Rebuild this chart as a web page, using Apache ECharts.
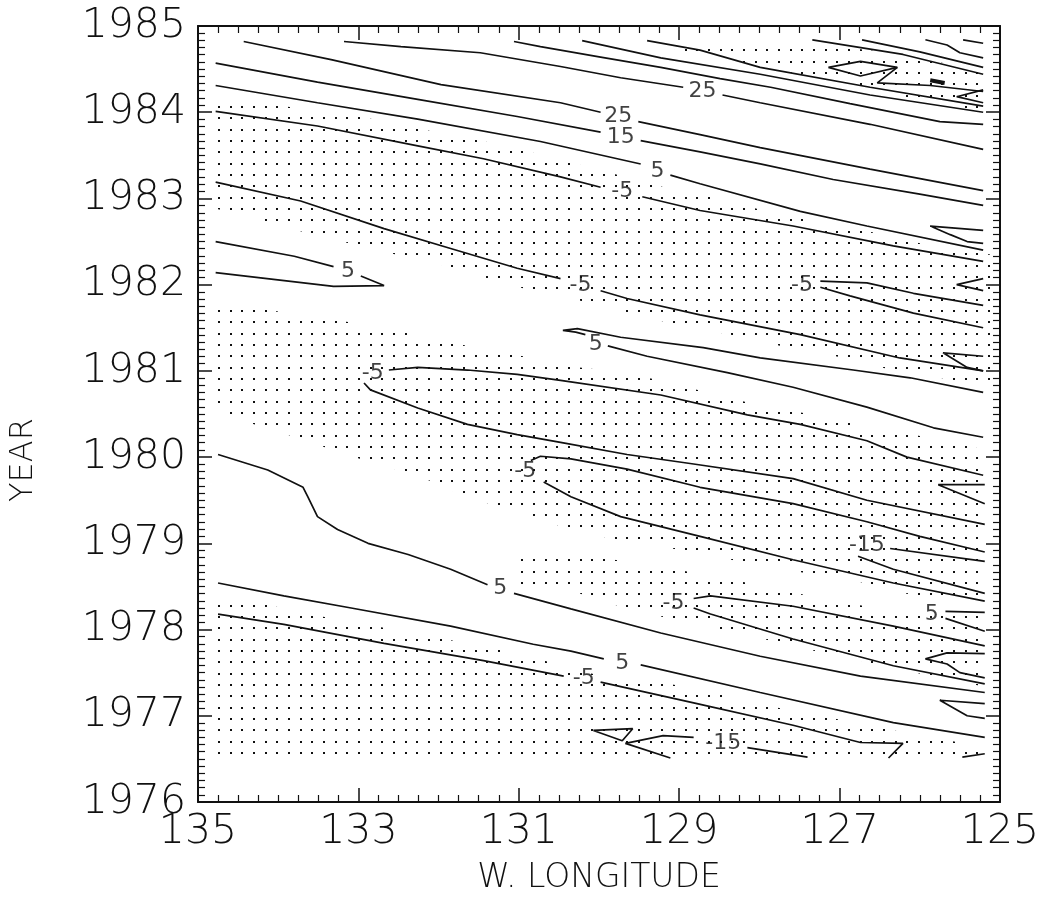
<!DOCTYPE html>
<html><head><meta charset="utf-8">
<script src="https://cdn.jsdelivr.net/npm/echarts@6/dist/echarts.min.js"></script>
<style>html,body{margin:0;padding:0;background:#fff}#c{width:1053px;height:900px}</style>
</head><body><div id="c"></div>
<script>
// ---- axis tick labels ----
const lonTicks = [125, 127, 129, 131, 133, 135];
const lonLabels = ['125', '127', '129', '131', '133', '135'];
const yearTicks = [1976, 1977, 1978, 1979, 1980, 1981, 1982, 1983, 1984, 1985];
const yearLabels = ['1976', '1977', '1978', '1979', '1980', '1981', '1982', '1983', '1984', '1985'];

// ---- contour line segments [W. longitude, year] ----
const t1a = [[134.43,1984.82],[133.34,1984.61],[131.97,1984.32],[130.48,1984.11],[129.98,1984.00]];
const t1b = [[129.51,1983.89],[128.74,1983.74],[127.99,1983.59],[126.62,1983.34],[125.21,1983.09]];
const l4a = [[134.78,1984.57],[133.51,1984.35],[132.26,1984.15],[131.02,1983.95],[129.98,1983.77]];
const l4b = [[129.48,1983.67],[128.74,1983.54],[127.99,1983.40],[127.08,1983.22],[126.00,1983.05],[125.21,1982.92]];
const l5a = [[134.78,1984.31],[133.51,1984.11],[132.26,1983.92],[130.73,1983.66],[129.48,1983.40]];
const l5b = [[129.11,1983.27],[128.74,1983.17],[127.49,1982.85],[126.66,1982.68],[125.21,1982.40]];
const l6a = [[134.78,1984.01],[133.51,1983.84],[132.26,1983.61],[131.44,1983.46],[130.48,1983.25],[129.98,1983.13]];
const l6b = [[129.46,1983.02],[128.74,1982.86],[127.58,1982.68],[126.33,1982.45],[125.21,1982.27]];
const t2a = [[133.18,1984.82],[132.47,1984.76],[131.48,1984.69],[130.48,1984.53],[129.73,1984.40],[128.95,1984.29]];
const t2b = [[128.46,1984.20],[127.99,1984.11],[126.62,1983.86],[125.21,1983.57]];
const t3 = [[131.06,1984.82],[130.73,1984.76],[129.98,1984.64],[129.23,1984.52],[128.49,1984.39],[127.86,1984.29],[126.87,1984.10],[125.75,1983.89],[125.21,1983.86]];
const u582 = [[130.21,1984.83],[129.23,1984.63],[127.99,1984.44],[126.62,1984.20],[125.21,1984.00]];
const u647 = [[129.40,1984.83],[128.74,1984.72],[127.99,1984.52],[126.62,1984.29],[125.21,1984.07]];
const u1 = [[127.34,1984.84],[126.21,1984.67],[125.21,1984.44]];
const u2 = [[126.72,1984.84],[126.00,1984.70],[125.21,1984.52]];
const u3 = [[125.93,1984.84],[125.66,1984.78],[125.50,1984.69],[125.21,1984.63]];
const u4 = [[125.46,1984.84],[125.21,1984.80]];
const diamond = [[127.14,1984.52],[126.74,1984.59],[126.28,1984.52],[126.74,1984.42],[127.14,1984.52]];
const zline = [[126.28,1984.52],[126.53,1984.34],[125.87,1984.31],[125.21,1984.24]];
const blob = [[125.87,1984.37],[125.69,1984.34]];
const vTop = [[125.21,1984.26],[125.54,1984.18],[125.21,1984.11]];
const v1 = [[125.21,1982.63],[125.87,1982.68],[125.62,1982.58],[125.41,1982.50],[125.21,1982.48]];
const l7a = [[134.78,1983.19],[133.72,1982.97],[132.68,1982.65],[131.85,1982.42],[131.02,1982.19],[130.48,1982.07]];
const l7b = [[129.98,1981.93],[129.65,1981.84],[128.74,1981.65],[127.49,1981.42],[126.25,1981.15],[125.21,1981.00]];
const loopUp = [[134.78,1982.50],[133.80,1982.33],[133.31,1982.21]];
const loopLow = [[132.97,1982.10],[132.68,1981.99],[133.31,1981.98],[134.78,1982.14]];
const m5up = [[127.24,1982.04],[126.66,1982.02],[126.08,1981.90],[125.21,1981.76]];
const m5low = [[127.24,1981.97],[126.87,1981.87],[126.08,1981.67],[125.21,1981.50]];
const v2 = [[125.21,1982.07],[125.54,1982.00],[125.21,1981.93]];
const v3 = [[125.21,1981.17],[125.71,1981.21],[125.41,1981.04],[125.21,1981.00]];
const p5up = [[125.21,1980.75],[126.12,1980.92],[126.83,1981.01],[127.99,1981.15],[128.70,1981.27],[129.73,1981.39],[130.27,1981.49],[130.45,1981.47],[130.29,1981.45],[130.17,1981.42]];
const p5low = [[129.89,1981.29],[129.40,1981.17],[128.40,1980.98],[127.58,1980.81],[126.66,1980.58],[125.83,1980.34],[125.21,1980.23]];
const n5aUp = [[132.62,1981.01],[132.26,1981.04],[131.64,1981.01],[131.02,1980.96],[130.48,1980.89],[129.23,1980.72],[128.15,1980.49],[127.49,1980.38],[126.66,1980.19],[126.16,1980.00],[125.21,1979.79]];
const n5aLow = [[132.93,1980.86],[132.85,1980.78],[132.26,1980.57],[131.64,1980.38],[131.02,1980.26],[130.48,1980.17],[129.65,1980.03],[128.82,1979.92],[127.58,1979.75],[126.66,1979.50],[125.19,1979.22]];
const n5bUp = [[130.85,1979.96],[130.73,1980.01],[130.35,1979.98],[129.65,1979.86],[128.74,1979.65],[127.58,1979.46],[126.66,1979.25],[126.00,1979.08],[125.19,1978.90]];
const n5bLow = [[130.69,1979.71],[130.35,1979.54],[129.73,1979.31],[128.74,1979.08],[127.58,1978.81],[126.33,1978.54],[125.19,1978.33]];
const v4 = [[125.19,1979.68],[125.77,1979.68],[125.19,1979.46]];
const n15Up = [[126.37,1978.94],[125.19,1978.79]];
const n15Low = [[126.77,1978.85],[126.33,1978.70],[125.19,1978.42]];
const n5cUp = [[128.82,1978.36],[128.61,1978.39],[127.58,1978.27],[126.33,1978.04],[125.19,1977.81]];
const n5cLow = [[128.82,1978.25],[128.61,1978.18],[127.58,1977.89],[126.33,1977.58],[125.19,1977.37]];
const p5r1 = [[125.68,1978.21],[125.19,1978.20]];
const p5r2 = [[125.68,1978.13],[125.19,1977.98]];
const v5 = [[125.19,1977.72],[125.66,1977.73],[125.93,1977.66],[125.66,1977.60],[125.50,1977.50],[125.19,1977.44]];
const v6 = [[125.19,1977.14],[125.75,1977.18],[125.41,1977.00],[125.19,1976.97]];
const m1a = [[134.75,1980.03],[134.13,1979.85],[133.69,1979.65],[133.63,1979.54],[133.51,1979.31],[133.26,1979.16],[132.88,1979.00],[132.38,1978.87],[131.85,1978.70],[131.39,1978.52]];
const m1b = [[131.06,1978.42],[130.35,1978.24],[129.23,1977.96],[127.99,1977.69],[126.74,1977.46],[125.19,1977.27]];
const m2a = [[134.75,1978.54],[133.93,1978.39],[133.09,1978.25],[131.85,1978.04],[130.82,1977.83],[130.35,1977.75],[129.94,1977.66]];
const m2b = [[129.48,1977.59],[127.99,1977.27],[126.33,1976.92],[125.19,1976.75]];
const m3a = [[134.75,1978.18],[133.93,1978.06],[132.68,1977.84],[131.44,1977.64],[130.44,1977.46]];
const m3b = [[129.98,1977.39],[128.82,1977.15],[127.58,1976.89],[126.74,1976.69],[126.21,1976.68],[126.39,1976.51]];
const tri = [[130.07,1976.83],[129.58,1976.85],[129.71,1976.71],[130.07,1976.83]];
const b15a = [[129.67,1976.68],[129.20,1976.77],[128.82,1976.75]];
const b15b = [[128.15,1976.63],[127.40,1976.52]];
const b15c = [[129.67,1976.68],[129.11,1976.51]];
const stub = [[125.47,1976.52],[125.19,1976.56]];

const contourSegments = [t1a,t1b,l4a,l4b,l5a,l5b,l6a,l6b,t2a,t2b,t3,u582,u647,u1,u2,u3,u4,diamond,zline,vTop,v1,
  l7a,l7b,loopUp,loopLow,m5up,m5low,v2,v3,p5up,p5low,n5aUp,n5aLow,n5bUp,n5bLow,v4,n15Up,n15Low,n5cUp,n5cLow,
  p5r1,p5r2,v5,v6,m1a,m1b,m2a,m2b,m3a,m3b,tri,b15a,b15b,b15c,stub];

// ---- contour labels [lon, year, text] ----
const contourLabels = [
  [129.76,1983.95,'25'],[128.71,1984.24,'25'],[129.73,1983.71,'15'],[129.27,1983.32,'5'],[129.71,1983.08,'-5'],
  [133.13,1982.15,'5'],[130.23,1981.99,'-5'],[127.47,1981.99,'-5'],[130.04,1981.31,'5'],[132.82,1980.97,'-5'],
  [130.92,1979.83,'-5'],[126.66,1978.98,'-15'],[131.23,1978.48,'5'],[129.07,1978.31,'-5'],[125.85,1978.18,'5'],
  [129.71,1977.61,'5'],[130.19,1977.43,'-5'],[128.45,1976.68,'-15']
];

// ---- stippled (negative) regions ----
const stip1 = [[134.78,1984.15],[134.28,1984.11],[133.43,1984.01],[132.56,1983.88],[132.00,1983.76],[131.26,1983.63],[130.70,1983.50],[130.11,1983.36],[129.11,1983.11],[128.52,1983.00],[127.95,1982.86],[127.20,1982.71],[126.49,1982.59],[125.91,1982.46],[125.12,1982.35],
  [125.12,1980.83],[125.62,1980.90],[126.35,1981.01],[126.93,1981.15],[127.65,1981.27],[128.24,1981.40],[128.96,1981.52],[129.55,1981.65],[130.11,1981.79],[130.70,1981.90],[131.29,1982.04],[131.70,1982.17],[132.29,1982.30],[132.87,1982.42],[133.44,1982.56],[134.00,1982.68],[134.46,1982.82],[134.78,1982.88]];
const stip2 = [[134.78,1981.78],[134.59,1981.76],[133.69,1981.65],[132.82,1981.52],[132.10,1981.38],[131.39,1981.24],[130.69,1981.13],[130.44,1981.06],[129.96,1981.01],[129.23,1980.89],[128.65,1980.75],[128.08,1980.62],[127.33,1980.49],[126.74,1980.37],[126.03,1980.25],[125.31,1980.11],[125.15,1980.09],
  [125.15,1978.33],[125.62,1978.35],[126.21,1978.42],[126.78,1978.56],[127.52,1978.67],[128.24,1978.79],[128.96,1978.92],[129.83,1979.05],[130.39,1979.17],[130.83,1979.31],[131.26,1979.43],[131.70,1979.55],[132.00,1979.69],[132.43,1979.83],[132.85,1979.94],[133.28,1980.07],[133.72,1980.21],[134.15,1980.34],[134.59,1980.46],[134.78,1980.60]];
const stip3 = [[130.98,1978.87],[130.11,1978.85],[129.23,1978.73],[128.49,1978.60],[127.78,1978.48],[127.20,1978.35],[126.47,1978.24],[125.15,1978.15],
  [125.15,1977.33],[125.87,1977.46],[126.33,1977.56],[126.91,1977.67],[127.49,1977.79],[128.08,1977.92],[128.65,1978.04],[129.23,1978.15],[129.82,1978.29],[130.25,1978.42],[130.39,1978.52],[130.98,1978.52]];
const stip4 = [[134.78,1978.33],[134.25,1978.31],[133.56,1978.17],[132.85,1978.05],[132.10,1977.92],[131.35,1977.79],[130.77,1977.66],[129.98,1977.46],[129.36,1977.41],[128.65,1977.29],[128.08,1977.15],[127.49,1977.04],[126.74,1976.91],[126.02,1976.77],[125.31,1976.66],[125.15,1976.63],
  [125.15,1976.47],[134.78,1976.47]];
const stip5 = [[129.33,1984.80],[127.34,1984.80],[126.21,1984.67],[125.15,1984.46],[125.15,1983.97],[125.50,1984.06],[126.25,1984.19],[126.62,1984.29],[127.37,1984.41],[127.99,1984.54],[128.70,1984.67],[129.27,1984.77]];
const stippleRegions = [stip1, stip2, stip3, stip4, stip5];

// ---- dot pattern ----
const pc = document.createElement('canvas');
pc.width = 35; pc.height = 34;
const g = pc.getContext('2d');
g.fillStyle = '#111';
[0, 12, 23].forEach(x => [0, 11, 23].forEach(y => g.fillRect(x, y, 2, 2)));
const dotFill = { image: pc, repeat: 'repeat', x: 8, y: 4 };

const FONT = "'DejaVu Sans', 'Liberation Sans', sans-serif";
const INK = '#111';

function xAx(pos, labels) {
  return {
    type: 'value', min: 125, max: 135, interval: 2, inverse: true, position: pos,
    axisLine: { show: true, onZero: false, lineStyle: { color: INK, width: 2 } },
    axisTick: { show: true, inside: true, length: 14, lineStyle: { color: INK, width: 1.5 } },
    minorTick: { show: true, splitNumber: 8, length: 7, lineStyle: { color: INK, width: 1.2 } },
    splitLine: { show: false }, minorSplitLine: { show: false },
    axisLabel: { show: labels, color: '#111', fontSize: 41, fontWeight: 200, fontFamily: FONT, margin: 10,
      formatter: v => lonLabels[lonTicks.indexOf(v)] },
    name: labels ? 'W. LONGITUDE' : '', nameLocation: 'middle', nameGap: 60,
    nameTextStyle: { fontSize: 33, fontWeight: 200, fontFamily: FONT, color: '#111' }
  };
}
function yAx(pos, labels) {
  return {
    type: 'value', min: 1976, max: 1985, interval: 1, position: pos,
    axisLine: { show: true, onZero: false, lineStyle: { color: INK, width: 2 } },
    axisTick: { show: true, inside: true, length: 14, lineStyle: { color: INK, width: 1.5 } },
    minorTick: { show: true, splitNumber: 12, length: 7, lineStyle: { color: INK, width: 1.2 } },
    splitLine: { show: false }, minorSplitLine: { show: false },
    axisLabel: { show: labels, color: '#111', fontSize: 41, fontWeight: 200, fontFamily: FONT, margin: 12,
      formatter: v => yearLabels[yearTicks.indexOf(v)] },
    name: labels ? 'YEAR' : '', nameLocation: 'middle', nameGap: 158, nameRotate: 90,
    nameTextStyle: { fontSize: 32, fontWeight: 200, fontFamily: FONT, color: '#111', padding: [0, 92, 0, 0] }
  };
}

const series = [];
series.push({
  type: 'custom', coordinateSystem: 'cartesian2d', silent: true, z: 1, animation: false,
  data: stippleRegions.map((p, i) => [p[0][0], p[0][1], i]),
  encode: { x: 0, y: 1 },
  renderItem: (params, api) => {
    const poly = stippleRegions[api.value(2)];
    return { type: 'polygon', shape: { points: poly.map(p => api.coord(p)) }, style: { fill: dotFill } };
  }
});
contourSegments.forEach(seg => series.push({
  type: 'line', data: seg, symbol: 'none', showSymbol: false, silent: true, z: 3, animation: false,
  lineStyle: { color: INK, width: 1.7 }
}));
series.push({
  type: 'line', data: blob, symbol: 'none', silent: true, z: 3, animation: false,
  lineStyle: { color: INK, width: 4 }
});
series.push({
  type: 'scatter', data: contourLabels, symbolSize: 1, silent: true, z: 4, animation: false,
  itemStyle: { color: 'rgba(0,0,0,0)' },
  label: { show: true, position: 'inside', formatter: p => p.data[2], fontSize: 22, fontWeight: 'normal',
    fontFamily: FONT, color: INK }
});

const chart = echarts.init(document.getElementById('c'), null, { renderer: 'canvas' });
chart.setOption({
  animation: false,
  backgroundColor: '#fff',
  grid: { left: 197, right: 53, top: 26, bottom: 93, containLabel: false },
  xAxis: [xAx('bottom', true), xAx('top', false)],
  yAxis: [yAx('left', true), yAx('right', false)],
  series: series
});
</script>
</body></html>
